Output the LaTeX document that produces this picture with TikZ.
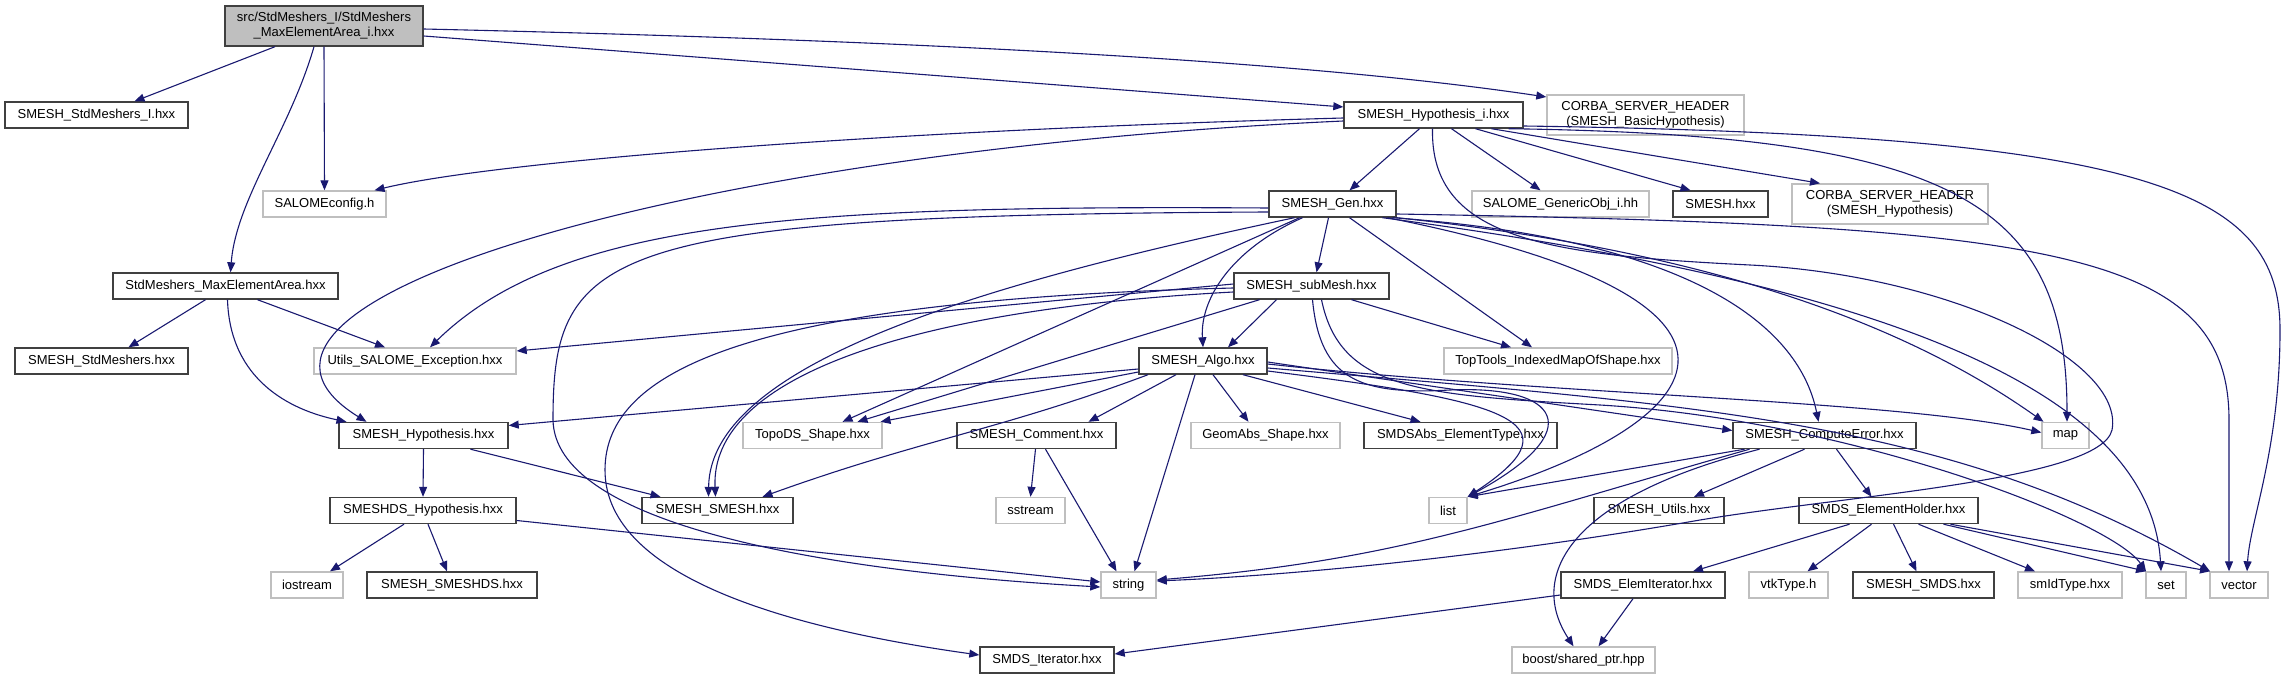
\documentclass[tikz,border=0pt]{standalone}
\usepackage{fontspec}
\setmainfont{Liberation Sans}
\usetikzlibrary{arrows.meta}
\definecolor{edgeblue}{HTML}{191970}
\definecolor{boxgrey}{HTML}{BFBFBF}
\definecolor{boxline}{HTML}{404040}

\begin{document}
\begin{tikzpicture}[x=1pt,y=-1pt,font=\fontsize{13}{15}\selectfont,
  doc/.style={draw=boxline,fill=white,line width=1.4pt,minimum height=26pt,inner sep=0pt,align=center},
  ext/.style={doc,draw=boxgrey},
  inc/.style={-{Triangle[length=10pt,width=8pt]},edgeblue,line width=1.1pt}]
  \useasboundingbox (0,0) rectangle (2285,679);

  % files
  \node[doc,fill=boxgrey,minimum width=198pt,minimum height=40pt] (root) at (324,26) {src/StdMeshers\_I/StdMeshers\\\_MaxElementArea\_i.hxx};
  \node[doc,minimum width=183pt] (stdI) at (96.5,115) {SMESH\_StdMeshers\_I.hxx};
  \node[doc,minimum width=179pt] (hypI) at (1433.5,115) {SMESH\_Hypothesis\_i.hxx};
  \node[ext,minimum width=197pt,minimum height=40pt] (corbaB) at (1645.5,115) {CORBA\_SERVER\_HEADER\\(SMESH\_BasicHypothesis)};
  \node[ext,minimum width=123pt] (saloCfg) at (324.5,204) {SALOMEconfig.h};
  \node[doc,minimum width=127pt] (gen) at (1332.5,204) {SMESH\_Gen.hxx};
  \node[ext,minimum width=177pt] (genObj) at (1560.5,204) {SALOME\_GenericObj\_i.hh};
  \node[doc,minimum width=95pt] (smeshH) at (1720.5,204) {SMESH.hxx};
  \node[ext,minimum width=196pt,minimum height=40pt] (corbaH) at (1890,204) {CORBA\_SERVER\_HEADER\\(SMESH\_Hypothesis)};
  \node[doc,minimum width=225pt] (maxEA) at (225.5,286) {StdMeshers\_MaxElementArea.hxx};
  \node[doc,minimum width=155pt] (subMesh) at (1311.5,286) {SMESH\_subMesh.hxx};
  \node[doc,minimum width=173pt] (stdM) at (101.5,361) {SMESH\_StdMeshers.hxx};
  \node[ext,minimum width=202pt] (utilsExc) at (415,361) {Utils\_SALOME\_Exception.hxx};
  \node[doc,minimum width=128pt] (algo) at (1203,361) {SMESH\_Algo.hxx};
  \node[ext,minimum width=228pt] (topTools) at (1558,361) {TopTools\_IndexedMapOfShape.hxx};
  \node[doc,minimum width=169pt] (hyp) at (423.5,435.5) {SMESH\_Hypothesis.hxx};
  \node[ext,minimum width=139pt] (topoDS) at (812.5,435.5) {TopoDS\_Shape.hxx};
  \node[doc,minimum width=159pt] (comment) at (1036.5,435.5) {SMESH\_Comment.hxx};
  \node[ext,minimum width=149pt] (geomAbs) at (1265.5,435.5) {GeomAbs\_Shape.hxx};
  \node[doc,minimum width=193pt] (smdsAbs) at (1460.5,435.5) {SMDSAbs\_ElementType.hxx};
  \node[doc,minimum width=183pt] (compErr) at (1824.5,435.5) {SMESH\_ComputeError.hxx};
  \node[ext,minimum width=47pt] (map) at (2065.5,435.5) {map};
  \node[doc,minimum width=186pt] (hypDS) at (423,510.5) {SMESHDS\_Hypothesis.hxx};
  \node[doc,minimum width=151pt] (smeshSM) at (717.5,510.5) {SMESH\_SMESH.hxx};
  \node[ext,minimum width=69pt] (sstream) at (1030.5,510.5) {sstream};
  \node[ext,minimum width=38pt] (list) at (1448,510.5) {list};
  \node[doc,minimum width=130pt] (utils) at (1659,510.5) {SMESH\_Utils.hxx};
  \node[doc,minimum width=179pt] (elemHolder) at (1888.5,510.5) {SMDS\_ElementHolder.hxx};
  \node[ext,minimum width=72pt] (iostream) at (307,585) {iostream};
  \node[doc,minimum width=170pt] (smeshDS) at (452,585) {SMESH\_SMESHDS.hxx};
  \node[ext,minimum width=55pt] (string) at (1128.5,585) {string};
  \node[doc,minimum width=164pt] (elemIt) at (1643,585) {SMDS\_ElemIterator.hxx};
  \node[ext,minimum width=79pt] (vtkType) at (1788.5,585) {vtkType.h};
  \node[doc,minimum width=141pt] (smeshSMDS) at (1923.5,585) {SMESH\_SMDS.hxx};
  \node[ext,minimum width=104pt] (smIdType) at (2070,585) {smIdType.hxx};
  \node[ext,minimum width=40pt] (set) at (2166,585) {set};
  \node[ext,minimum width=58pt] (vector) at (2239,585) {vector};
  \node[doc,minimum width=134pt] (smdsIt) at (1047,660) {SMDS\_Iterator.hxx};
  \node[ext,minimum width=143pt] (boost) at (1583.5,660) {boost/shared\_ptr.hpp};

  % includes of the root file
  \draw[inc] ([xshift=-49pt]root.south) -- ([xshift=38pt]stdI.north);
  \draw[inc] (root.south) -- (saloCfg.north);
  \draw[inc] ([xshift=-10pt]root.south) .. controls (290,130) and (236,200) .. ([xshift=5pt]maxEA.north);
  \draw[inc] ([yshift=-10pt]root.east) -- ([yshift=8pt]hypI.west);
  \draw[inc] ([yshift=-3pt]root.east) .. controls (900,40) and (1300,60) .. ([yshift=18pt]corbaB.west);

  \draw[inc] ([xshift=-20pt]maxEA.south) -- ([xshift=27pt]stdM.north);
  \draw[inc] ([xshift=32pt]maxEA.south) -- ([xshift=-30pt]utilsExc.north);
  \draw[inc] ([xshift=2pt]maxEA.south) .. controls (230,380) and (290,410) .. ([xshift=-77pt]hyp.north);

  % SMESH_Hypothesis_i.hxx
  \draw[inc] ([yshift=-3pt]hypI.west) .. controls (900,130) and (500,160) .. ([xshift=50pt]saloCfg.north);
  \draw[inc] ([yshift=-6pt]hypI.west) .. controls (700,150) and (170,300) .. ([xshift=-57pt]hyp.north);
  \draw[inc] ([xshift=-14pt]hypI.south) -- ([xshift=17pt]gen.north);
  \draw[inc] ([xshift=18pt]hypI.south) -- ([xshift=-20pt]genObj.north);
  \draw[inc] ([xshift=42pt]hypI.south) -- ([xshift=-30pt]smeshH.north);
  \draw[inc] ([xshift=58pt]hypI.south) -- ([xshift=-70pt]corbaH.north);
  \draw[inc] ([xshift=75pt]hypI.south) .. controls (1950,135) and (2067,200) .. ([xshift=1.5pt]map.north);
  \draw[inc] ([yshift=-11pt]hypI.east) .. controls (2150,135) and (2280,190) .. (2280,330)
    .. controls (2280,450) and (2250,520) .. ([xshift=8pt]vector.north);
  \draw[inc] ([xshift=-1pt]hypI.south) .. controls (1430,240) and (1550,255) .. (1750,265)
    .. controls (1950,275) and (2125,360) .. (2112,430)
    .. controls (2100,480) and (1850,495) .. (1700,520)
    .. controls (1500,555) and (1300,575) .. ([yshift=4pt]string.east);

  % SMESH_Gen.hxx
  \draw[inc] ([xshift=-4pt]gen.south) -- ([xshift=5pt]subMesh.north);
  \draw[inc] ([xshift=-30pt]gen.south) .. controls (1230,250) and (1200,300) .. (algo.north);
  \draw[inc] ([xshift=17pt]gen.south) -- ([xshift=-26pt]topTools.north);
  \draw[inc] ([yshift=-4pt]gen.west) .. controls (800,205) and (560,220) .. ([xshift=15pt]utilsExc.north);
  \draw[inc] ([xshift=-33pt]gen.south) -- ([xshift=30pt]topoDS.north);
  \draw[inc] ([xshift=-38pt]gen.south) .. controls (1000,280) and (710,360) .. ([xshift=-9pt]smeshSM.north);
  \draw[inc] ([yshift=-8pt]gen.west) .. controls (600,215) and (553,250) .. (553,420)
    .. controls (555,520) and (800,570) .. ([yshift=-2pt]string.west);
  \draw[inc] ([xshift=60pt]gen.south) .. controls (1700,240) and (1800,330) .. ([xshift=-6pt]compErr.north);
  \draw[inc] (gen.south east) .. controls (1700,250) and (1900,320) .. ([xshift=-22pt]map.north);
  \draw[inc] ([yshift=-10pt]gen.east) .. controls (2050,225) and (2229,250) .. (2229,420) -- ([xshift=-10pt]vector.north);
  \draw[inc] ([xshift=55pt]gen.south) .. controls (1800,300) and (1720,420) .. (list.north east);
  \draw[inc] ([xshift=50pt]gen.south) .. controls (1850,280) and (2150,380) .. ([xshift=-5pt]set.north);

  % SMESH_subMesh.hxx
  \draw[inc] ([xshift=-35pt]subMesh.south) -- ([xshift=25pt]algo.north);
  \draw[inc] ([xshift=40pt]subMesh.south) -- ([xshift=-47pt]topTools.north);
  \draw[inc] ([yshift=2pt]subMesh.west) -- ([yshift=10pt]utilsExc.east);
  \draw[inc] ([yshift=-6pt]subMesh.west) .. controls (900,310) and (710,380) .. ([xshift=-2pt]smeshSM.north);
  \draw[inc] ([xshift=-52pt]subMesh.south) -- ([xshift=45pt]topoDS.north);
  \draw[inc] ([yshift=-2pt]subMesh.west) .. controls (750,300) and (605,370) .. (605,470)
    .. controls (605,580) and (800,630) .. ([yshift=5pt]smdsIt.west);
  \draw[inc] ([xshift=1pt]subMesh.south) .. controls (1320,380) and (1360,395) .. (1450,390)
    .. controls (1560,385) and (1590,430) .. (list.north east);
  \draw[inc] ([xshift=10pt]subMesh.south) .. controls (1340,390) and (1420,395) .. (1600,405)
    .. controls (1850,420) and (2110,520) .. ([xshift=-20pt]set.north);

  % SMESH_Algo.hxx
  \draw[inc] ([yshift=-8pt]algo.west) -- ([yshift=10pt]hyp.east);
  \draw[inc] ([yshift=-11pt]algo.west) -- ([xshift=68pt]topoDS.north);
  \draw[inc] ([xshift=-55pt]algo.south) .. controls (1000,430) and (920,440) .. ([xshift=45pt]smeshSM.north);
  \draw[inc] ([xshift=-27pt]algo.south) -- ([xshift=52pt]comment.north);
  \draw[inc] ([xshift=-8pt]algo.south) -- ([xshift=6pt]string.north);
  \draw[inc] ([xshift=10pt]algo.south) -- ([xshift=-17pt]geomAbs.north);
  \draw[inc] ([xshift=40pt]algo.south) -- ([xshift=-40pt]smdsAbs.north);
  \draw[inc] ([yshift=-1pt]algo.east) -- ([yshift=5pt]compErr.west);
  \draw[inc] ([yshift=-3pt]algo.east) .. controls (1550,395) and (1900,400) .. ([yshift=3pt]map.west);
  \draw[inc] ([yshift=-7pt]algo.east) .. controls (1700,405) and (1950,420) .. ([xshift=-29pt]vector.north);
  \draw[inc] ([yshift=-10pt]algo.east) .. controls (1500,400) and (1585,420) .. (list.north east);

  % SMESH_Hypothesis.hxx and below
  \draw[inc] (hyp.south) -- (hypDS.north);
  \draw[inc] ([xshift=47pt]hyp.south) -- ([xshift=-57pt]smeshSM.north);
  \draw[inc] ([xshift=-19pt]hypDS.south) -- ([xshift=23pt]iostream.north);
  \draw[inc] ([xshift=5pt]hypDS.south) -- ([xshift=-5pt]smeshDS.north);
  \draw[inc] ([yshift=-10pt]hypDS.east) -- ([yshift=3pt]string.west);
  \draw[inc] ([xshift=-1pt]comment.south) -- (sstream.north);
  \draw[inc] ([xshift=9pt]comment.south) -- ([xshift=-12pt]string.north);

  % SMESH_ComputeError.hxx
  \draw[inc] ([xshift=-80pt]compErr.south) -- (list.north east);
  \draw[inc] ([xshift=-75pt]compErr.south) .. controls (1500,520) and (1400,560) .. ([yshift=5pt]string.east);
  \draw[inc] ([xshift=-20pt]compErr.south) -- ([xshift=35pt]utils.north);
  \draw[inc] ([xshift=12pt]compErr.south) -- ([xshift=-17pt]elemHolder.north);
  \draw[inc] ([xshift=-65pt]compErr.south) .. controls (1560,500) and (1530,580) .. ([xshift=-10pt]boost.north);

  % SMDS_ElementHolder.hxx
  \draw[inc] ([xshift=-39pt]elemHolder.south) -- ([xshift=50pt]elemIt.north);
  \draw[inc] ([xshift=-17pt]elemHolder.south) -- ([xshift=19pt]vtkType.north);
  \draw[inc] ([xshift=5pt]elemHolder.south) -- ([xshift=-7pt]smeshSMDS.north);
  \draw[inc] ([xshift=30pt]elemHolder.south) -- ([xshift=-35pt]smIdType.north);
  \draw[inc] ([xshift=55pt]elemHolder.south) -- ([xshift=-20pt]set.north);
  \draw[inc] ([xshift=62pt]elemHolder.south) -- ([xshift=-29pt]vector.north);
  \draw[inc] ([xshift=-10pt]elemIt.south) -- ([xshift=15pt]boost.north);
  \draw[inc] ([yshift=-10pt]elemIt.west) -- ([yshift=6pt]smdsIt.east);
\end{tikzpicture}
\end{document}
